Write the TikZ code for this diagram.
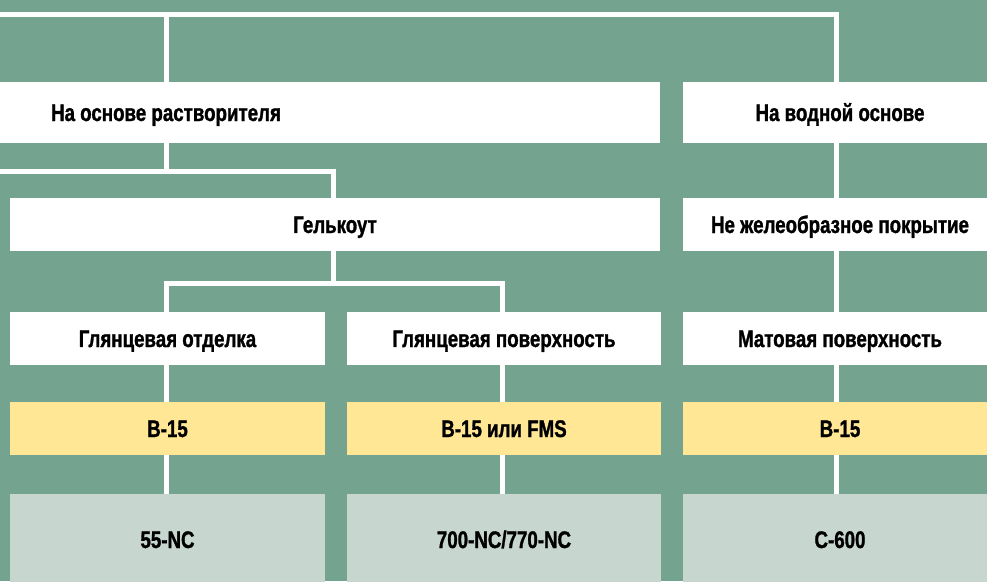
\documentclass[tikz,border=0pt]{standalone}
\usepackage{fontspec}
\setmainfont{Liberation Sans}[FakeStretch=0.78, BoldFeatures={FakeBold=1.2}]
\usepackage{tikz}

\definecolor{bggreen}{RGB}{116,163,143}
\definecolor{resinyellow}{RGB}{255,231,150}
\definecolor{prodgreen}{RGB}{199,215,207}

\tikzset{
  box/.style={fill=white, minimum height=53pt, inner sep=0pt,
    text height=17pt, text depth=0pt,
    font=\bfseries\fontsize{24}{28}\selectfont},
  lbl/.style={inner sep=0pt, text height=17pt, text depth=0pt,
    font=\bfseries\fontsize{24}{28}\selectfont},
  resin/.style={box, fill=resinyellow, minimum width=314pt},
  prod/.style={box, fill=prodgreen, minimum width=314pt, minimum height=91pt},
  wire/.style={draw=white, line width=5pt},
}

\begin{document}
\begin{tikzpicture}[x=1pt,y=-1pt]
  \fill[bggreen] (0,0) rectangle (987,581);
  \useasboundingbox (0,0) rectangle (987,581);
  \coordinate (c1) at (166,0);
  \coordinate (c2) at (502,0);
  \coordinate (c3) at (836.5,0);
  \coordinate (cg) at (333.5,0);
  \coordinate (busA) at (0,14.5);
  \coordinate (busB) at (0,171.5);
  \coordinate (busC) at (0,283);

  % first level
  \node[box, minimum width=660pt, minimum height=61pt] (solv) at (330,112.5) {};
  \node[lbl] (solvlbl) at (solv -| c1) {На основе растворителя};
  \node[box, minimum width=314pt, minimum height=61pt] (water) at (840,112.5) {На водной основе};
  % second level
  \node[box, minimum width=650pt] (gel) at (335,224.5) {Гелькоут};
  \node[box, minimum width=314pt] (nongel) at (840,224.5) {Не желеобразное покрытие};
  % finish
  \node[box, minimum width=315pt] (gloss1) at (167.5,338.5) {Глянцевая отделка};
  \node[box, minimum width=314pt] (gloss2) at (504,338.5) {Глянцевая поверхность};
  \node[box, minimum width=314pt] (matte) at (840,338.5) {Матовая поверхность};
  % resin
  \node[resin, minimum width=315pt] (res1) at (167.5,428.5) {B-15};
  \node[resin] (res2) at (504,428.5) {B-15 или FMS};
  \node[resin] (res3) at (840,428.5) {B-15};
  % product
  \node[prod, minimum width=315pt] (prod1) at (167.5,539.5) {55-NC};
  \node[prod] (prod2) at (504,539.5) {700-NC/770-NC};
  \node[prod] (prod3) at (840,539.5) {C-600};

  % buses
  \draw[wire] (busA) -| (water.north -| c3);
  \draw[wire] (busA -| c1) -- (solv.north -| c1);
  \draw[wire] (solv.south -| c1) -- (busB -| c1);
  \draw[wire] (busB) -| (gel.north -| cg);
  \draw[wire] (gel.south -| cg) -- (busC -| cg);
  \draw[wire] (gloss1.north -| c1) |- (busC -| c2) -- (gloss2.north -| c2);
  \draw[wire] (water.south -| c3) -- (nongel.north -| c3);
  \draw[wire] (nongel.south -| c3) -- (matte.north -| c3);
  % columns
  \foreach \f/\r/\p/\c in {gloss1/res1/prod1/c1, gloss2/res2/prod2/c2, matte/res3/prod3/c3}{
    \draw[wire] (\f.south -| \c) -- (\r.north -| \c);
    \draw[wire] (\r.south -| \c) -- (\p.north -| \c);
  }
\end{tikzpicture}
\end{document}
